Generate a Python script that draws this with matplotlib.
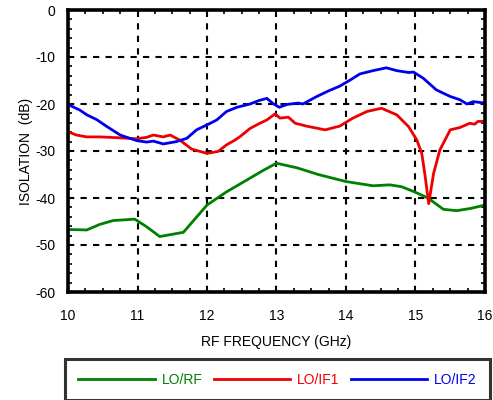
import matplotlib.pyplot as plt
from matplotlib.ticker import MultipleLocator

plt.rcParams['font.family'] = ['Liberation Sans', 'DejaVu Sans']
plt.rcParams['axes.unicode_minus'] = False

# LO/RF isolation
freq_rf = [10.0, 10.27, 10.46, 10.65, 10.96, 11.13, 11.32, 11.66, 12.0, 12.28, 12.57, 12.8,
           13.0, 13.3, 13.6, 14.0, 14.39, 14.63, 14.8, 14.97, 15.18, 15.4, 15.59, 15.8, 16.0]
iso_rf = [-46.7, -46.8, -45.6, -44.8, -44.5, -46.1, -48.2, -47.3, -41.5, -38.7, -36.2, -34.2,
          -32.6, -33.6, -35.0, -36.5, -37.4, -37.2, -37.6, -38.6, -40.0, -42.4, -42.7, -42.2, -41.5]

# LO/IF1 isolation
freq_if1 = [10.0, 10.12, 10.27, 10.46, 10.75, 10.98, 11.13, 11.23, 11.37, 11.47, 11.61, 11.78,
            12.0, 12.16, 12.28, 12.4, 12.47, 12.62, 12.76, 12.86, 12.98, 13.05, 13.17, 13.27,
            13.43, 13.53, 13.70, 13.91, 14.1, 14.3, 14.51, 14.73, 14.9, 15.02, 15.09, 15.14,
            15.19, 15.26, 15.35, 15.5, 15.64, 15.78, 15.85, 15.9, 16.0]
iso_if1 = [-25.9, -26.6, -27.0, -27.0, -27.2, -27.4, -27.1, -26.6, -27.0, -26.6, -27.7, -29.6,
           -30.5, -30.1, -28.7, -27.7, -27.0, -25.2, -24.1, -23.4, -22.1, -23.0, -22.8, -24.1,
           -24.7, -25.0, -25.5, -24.7, -23.0, -21.6, -20.9, -22.3, -24.8, -27.7, -30.5, -35.5,
           -41.2, -34.8, -29.8, -25.5, -25.0, -24.1, -24.3, -23.7, -23.7]

# LO/IF2 isolation
freq_if2 = [10.0, 10.17, 10.27, 10.41, 10.56, 10.75, 10.99, 11.13, 11.23, 11.37, 11.56, 11.71,
            11.85, 12.02, 12.14, 12.28, 12.43, 12.62, 12.74, 12.86, 12.95, 13.04, 13.15, 13.31,
            13.38, 13.58, 13.75, 13.91, 14.06, 14.2, 14.39, 14.58, 14.73, 14.9, 14.97, 15.11,
            15.3, 15.5, 15.64, 15.74, 15.83, 16.0]
iso_if2 = [-20.1, -21.3, -22.3, -23.3, -24.8, -26.6, -27.8, -28.1, -27.9, -28.5, -28.0, -27.3,
           -25.5, -24.3, -23.4, -21.6, -20.7, -20.0, -19.3, -18.8, -19.9, -20.7, -20.1, -19.8,
           -20.0, -18.4, -17.2, -16.2, -14.9, -13.6, -12.9, -12.3, -12.9, -13.3, -13.2, -14.5,
           -17.0, -18.4, -19.1, -20.0, -19.5, -19.8]

fig = plt.figure(figsize=(4.93, 4.0), dpi=100)
ax = fig.add_axes([68 / 493, 1 - 292 / 400, 417 / 493, 282 / 400])

ax.plot(freq_rf, iso_rf, color='#008000', lw=2.0, label='LO/RF')
ax.plot(freq_if1, iso_if1, color='#EE0000', lw=2.0, label='LO/IF1')
ax.plot(freq_if2, iso_if2, color='#0000EE', lw=2.0, label='LO/IF2')

ax.set_xlim(10, 16)
ax.set_ylim(-60, 0)
ax.xaxis.set_major_locator(MultipleLocator(1))
ax.xaxis.set_minor_locator(MultipleLocator(0.25))
ax.yaxis.set_major_locator(MultipleLocator(10))
ax.yaxis.set_minor_locator(MultipleLocator(2))
ax.tick_params(which='both', direction='in', top=True, right=True, width=1.2)
ax.tick_params(which='major', length=0, labelsize=10)
ax.tick_params(axis='x', which='major', pad=12)
ax.tick_params(axis='y', which='major', pad=9)
ax.tick_params(which='minor', length=3)
ax.grid(True, which='major', color='black', linestyle=(0, (3, 3)), linewidth=1.5)
for s in ax.spines.values():
    s.set_linewidth(2.6)

ax.set_xlabel('RF FREQUENCY (GHz)', fontsize=10, labelpad=9)
ax.set_ylabel('ISOLATION  (dB)', fontsize=10, labelpad=1.5)

leg = fig.legend(loc='center', bbox_to_anchor=(277.5 / 493, 1 - 379.5 / 400),
                 ncol=3, fontsize=10, frameon=True, fancybox=False, edgecolor='black',
                 handlelength=5.5, handletextpad=0.5, columnspacing=0.8,
                 borderpad=1.0, borderaxespad=0)
leg.get_frame().set_linewidth(2.2)
for txt, line in zip(leg.get_texts(), leg.get_lines()):
    txt.set_color(line.get_color())

fig.savefig('out.png', dpi=100)
